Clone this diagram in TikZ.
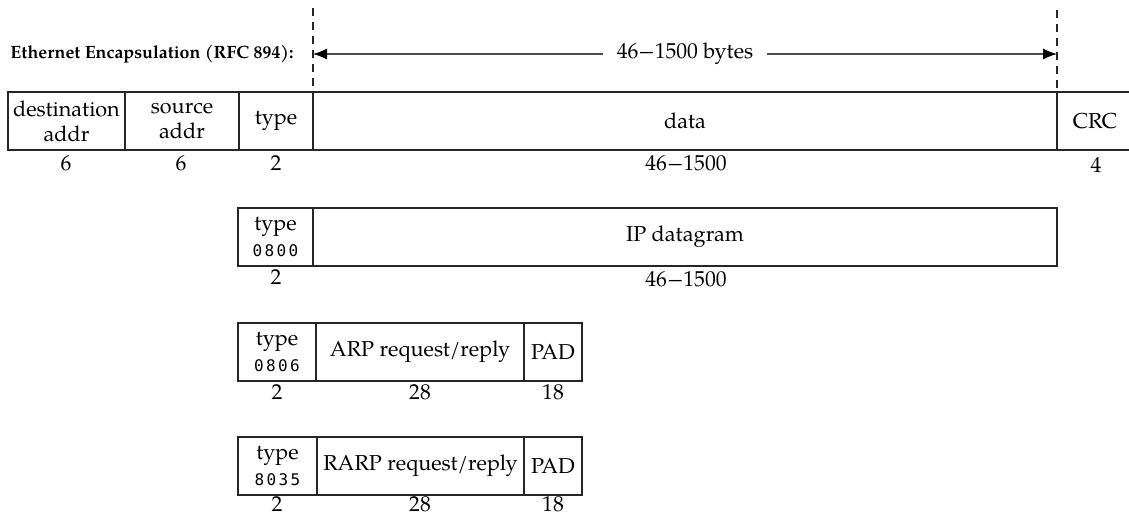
\documentclass[tikz,border=0pt]{standalone}
\usepackage{fontspec}
\setmainfont{TeX Gyre Pagella}
\newfontfamily\monof[LetterSpace=15]{DejaVu Sans Mono}
\usetikzlibrary{arrows.meta}
\begin{document}
\begin{tikzpicture}[x=0.5pt,y=-0.5pt,
  fld/.style={draw=black!85, line width=0.7pt, anchor=north west, inner sep=0pt, outer sep=0pt,
    minimum height=29pt, align=center, font=\fontsize{10.8}{12.5}\selectfont},
  tfld/.style={fld, font=\fontsize{10.8}{13}\selectfont},
  txt/.style={inner sep=0pt, font=\fontsize{10.8}{12.5}\selectfont},
  sz/.style={inner sep=0pt, font=\fontsize{10.8}{12}\selectfont},
  guide/.style={draw=black!85, line width=0.6pt, dash pattern=on 4pt off 3pt},
  arr/.style={draw=black!70, line width=0.6pt, -{Latex[length=7pt,width=5.5pt,color=black]}},
  openline/.style={draw=black!85, line width=0.7pt}
]
\useasboundingbox (0,0) rectangle (1129,516);

% title
\node[anchor=west, inner sep=0pt, font=\bfseries\fontsize{8.9}{10}\selectfont] (title) at (10,54) {Ethernet Encapsulation (RFC 894):};

% row 1
\node[fld, minimum width=58.5pt] (dst) at (8,92) {destination\\addr};
\node[fld, minimum width=57pt] (src) at (dst.north east) {source\\addr};
\node[fld, minimum width=37pt] (typ) at (src.north east) {type};
\node[fld, minimum width=372pt] (dat) at (typ.north east) {data};
\coordinate (crcT) at (1129,92);
\coordinate (crcB) at (1129,150);
\draw[openline] (dat.north east) -- (crcT);
\draw[openline] (dat.south east) -- (crcB);
\node[txt] (crc) at (1095,121) {CRC};

\node[sz] (n1a) at (66,163) {6};
\node[sz] (n1b) at (181,163) {6};
\node[sz] (n1c) at (276,163) {2};
\node[sz] (n1d) at (686,163) {46−1500};
\node[sz] (n1e) at (1096,165) {4};

% guides and byte arrow
\coordinate (g1) at (313,8);
\coordinate (g2) at (1057,10);
\draw[guide] (g1) -- (dat.north west);
\draw[guide] (g2) -- (dat.north east);
\node[inner sep=6.5pt, font=\fontsize{10.8}{12}\selectfont] (bytes) at (685,54) {46−1500 bytes};
\coordinate (aL) at (313,54);
\coordinate (aR) at (1057,54);
\draw[arr] (bytes.west) -- (aL);
\draw[arr] (bytes.east) -- (aR);

% row 2
\node[tfld, minimum width=37.5pt] (t2) at (238,208) {type\\{\monof\fontsize{8}{10}\selectfont 0800}};
\node[fld, minimum width=372pt] (ip) at (t2.north east) {IP datagram};
\node[sz] (n2a) at (276,277) {2};
\node[sz] (n2b) at (686,279) {46−1500};

% row 3
\node[tfld, minimum width=39pt] (t3) at (238,323) {type\\{\monof\fontsize{8}{10}\selectfont 0806}};
\node[fld, minimum width=104pt] (arp) at (t3.north east) {ARP request/reply};
\node[fld, minimum width=29pt] (pad3) at (arp.north east) {PAD};
\node[sz] (n3a) at (277,392) {2};
\node[sz] (n3b) at (420,392) {28};
\node[sz] (n3c) at (553,392) {18};

% row 4
\node[tfld, minimum width=39.5pt] (t4) at (238,437) {type\\{\monof\fontsize{8}{10}\selectfont 8035}};
\node[fld, minimum width=103.5pt] (rarp) at (t4.north east) {RARP request/reply};
\node[fld, minimum width=29pt] (pad4) at (rarp.north east) {PAD};
\node[sz] (n4a) at (277,504) {2};
\node[sz] (n4b) at (420,504) {28};
\node[sz] (n4c) at (553,504) {18};
\end{tikzpicture}
\end{document}
